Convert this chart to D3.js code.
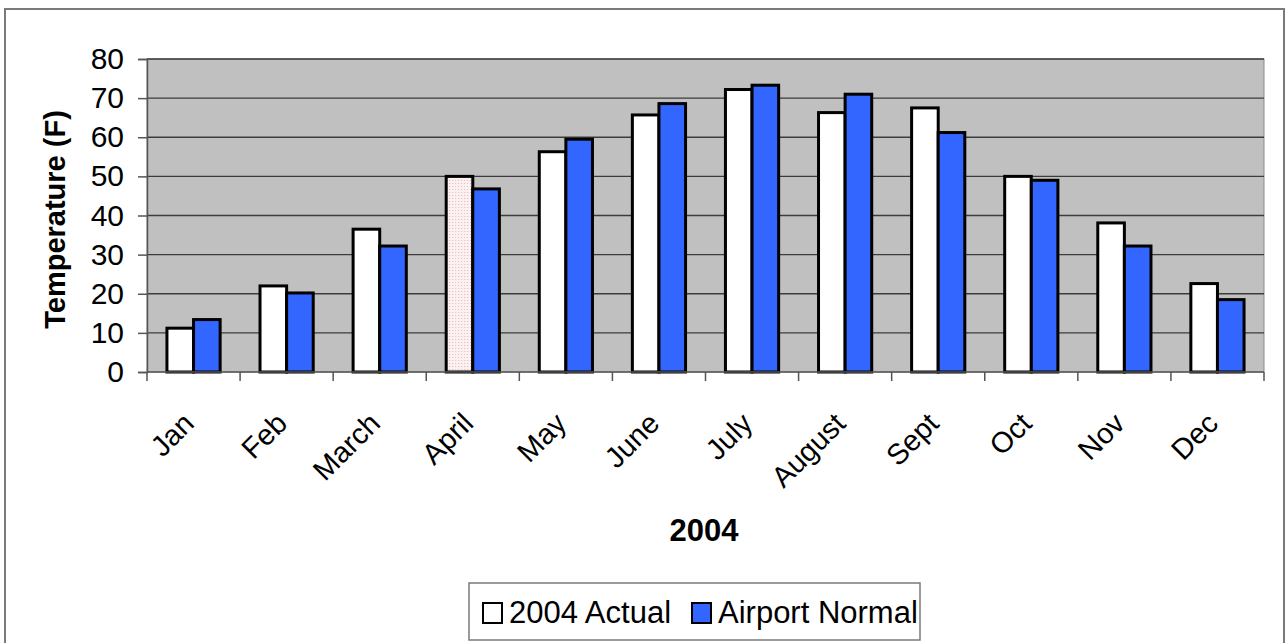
<!DOCTYPE html>
<html>
<head>
<meta charset="utf-8">
<script src="https://cdn.jsdelivr.net/npm/d3@7"></script>
<style>
  body { margin: 0; background: #fff; }
  text { font-family: "Liberation Sans", Arial, sans-serif; fill: #000; }
</style>
</head>
<body>
<svg id="chart" width="1286" height="643"></svg>
<script>
const months = ["Jan", "Feb", "March", "April", "May", "June", "July", "August", "Sept", "Oct", "Nov", "Dec"]
const actual2004 = [11.2, 22, 36.5, 50, 56.3, 65.7, 72.2, 66.3, 67.5, 50, 38.1, 22.6]
const airportNormal = [13.4, 20.2, 32.2, 46.8, 59.5, 68.6, 73.3, 71, 61.2, 49, 32.2, 18.5]
const yTicks = [0, 10, 20, 30, 40, 50, 60, 70, 80]
const seriesNames = ["2004 Actual", "Airport Normal"]
const highlighted = "April"

const svg = d3.select("#chart")
const margin = { left: 147, right: 1264, top: 59, bottom: 372 }

// outer frame (open at the bottom)
svg.append("path")
    .attr("d", "M5,643 L5,9 L1284,9 L1284,643")
    .attr("fill", "none")
    .attr("stroke", "#7a7a7a")
    .attr("stroke-width", 2)

const defs = svg.append("defs")
const pat = defs.append("pattern")
    .attr("id", "dots")
    .attr("width", 3).attr("height", 3)
    .attr("patternUnits", "userSpaceOnUse")
pat.append("rect").attr("width", 3).attr("height", 3).attr("fill", "#fbf1f1")
pat.append("rect").attr("width", 1).attr("height", 1).attr("fill", "#e2b9b9")

const x = d3.scaleBand()
    .domain(months)
    .range([margin.left, margin.right])

const y = d3.scaleLinear()
    .domain([0, 80])
    .range([margin.bottom, margin.top])

// plot area
svg.append("rect")
    .attr("x", margin.left).attr("y", margin.top)
    .attr("width", margin.right - margin.left)
    .attr("height", margin.bottom - margin.top)
    .attr("fill", "#c0c0c0")
    .attr("stroke", "#8c8c8c")
    .attr("stroke-width", 1)

svg.append("g")
    .selectAll("line")
    .data(yTicks.slice(1))
    .join("line")
    .attr("x1", margin.left).attr("x2", margin.right)
    .attr("y1", d => y(d)).attr("y2", d => y(d))
    .attr("stroke", "#3c3c3c")
    .attr("stroke-width", 1.3)

// bars
const bw = x.bandwidth() / 3.5
const groups = svg.append("g")
    .selectAll("g")
    .data(months)
    .join("g")
    .attr("transform", d => `translate(${x(d) + bw * 0.75},0)`)

groups.append("rect")
    .attr("x", 0)
    .attr("y", (d, i) => y(actual2004[i]))
    .attr("width", bw)
    .attr("height", (d, i) => y(0) - y(actual2004[i]))
    .attr("fill", d => d === highlighted ? "url(#dots)" : "#fff")
    .attr("stroke", "#000")
    .attr("stroke-width", 3)

groups.append("rect")
    .attr("x", bw)
    .attr("y", (d, i) => y(airportNormal[i]))
    .attr("width", bw)
    .attr("height", (d, i) => y(0) - y(airportNormal[i]))
    .attr("fill", "#3366ff")
    .attr("stroke", "#000")
    .attr("stroke-width", 3)

// y axis
const yAxis = svg.append("g")
    .attr("transform", `translate(${margin.left},0)`)
    .call(d3.axisLeft(y).tickValues(yTicks).tickSize(9).tickPadding(14))
yAxis.select(".domain").attr("stroke", "#555").attr("stroke-width", 1.5)
yAxis.selectAll(".tick line").attr("stroke", "#555").attr("stroke-width", 1.5)
yAxis.selectAll(".tick text")
    .attr("font-size", 30)
    .attr("font-family", "Liberation Sans, Arial, sans-serif")
    .attr("fill", "#000")

// x axis
svg.append("line")
    .attr("x1", margin.left).attr("x2", margin.right)
    .attr("y1", margin.bottom).attr("y2", margin.bottom)
    .attr("stroke", "#555").attr("stroke-width", 1.5)

const boundaries = months.map(m => x(m)).concat([margin.right])
svg.append("g")
    .selectAll("line")
    .data(boundaries)
    .join("line")
    .attr("x1", d => d).attr("x2", d => d)
    .attr("y1", margin.bottom).attr("y2", margin.bottom + 9)
    .attr("stroke", "#555").attr("stroke-width", 1.5)

svg.append("g")
    .selectAll("text")
    .data(months)
    .join("text")
    .attr("transform", d => `translate(${x(d) + x.bandwidth() / 2 - 5},418) rotate(-45)`)
    .attr("text-anchor", "end")
    .attr("dy", "0.35em")
    .attr("font-size", 29)
    .text(d => d)

// axis titles
svg.append("text")
    .attr("transform", `translate(65,${(margin.top + margin.bottom) / 2 + 4}) rotate(-90)`)
    .attr("text-anchor", "middle")
    .attr("font-size", 29)
    .attr("font-weight", "bold")
    .text("Temperature (F)")

svg.append("text")
    .attr("x", 704).attr("y", 541)
    .attr("text-anchor", "middle")
    .attr("font-size", 31)
    .attr("font-weight", "bold")
    .text("2004")

// legend
const legend = svg.append("g")
legend.append("rect")
    .attr("x", 469).attr("y", 583)
    .attr("width", 451).attr("height", 57)
    .attr("fill", "#fff")
    .attr("stroke", "#7a7a7a")
    .attr("stroke-width", 1.5)

const legendX = [483, 692]
const legendFill = ["#fff", "#3366ff"]
seriesNames.forEach((name, i) => {
    legend.append("rect")
        .attr("x", legendX[i]).attr("y", 603)
        .attr("width", 19).attr("height", 20)
        .attr("fill", legendFill[i])
        .attr("stroke", "#000")
        .attr("stroke-width", 2)
    legend.append("text")
        .attr("x", legendX[i] + 26).attr("y", 623)
        .attr("font-size", 31)
        .text(name)
})
</script>
</body>
</html>
